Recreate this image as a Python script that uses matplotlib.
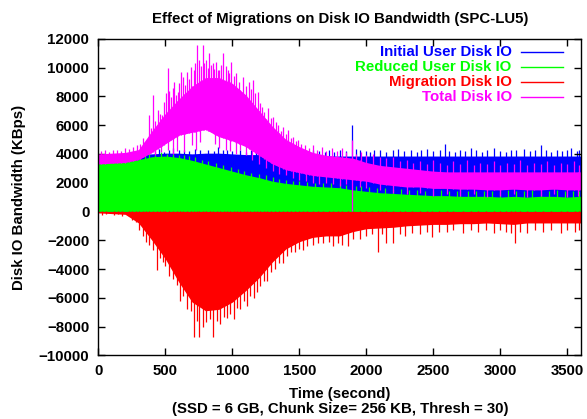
import numpy as np
import matplotlib
matplotlib.use("Agg")
import matplotlib.pyplot as plt

plt.rcParams['font.family'] = ['Liberation Sans', 'DejaVu Sans']
plt.rcParams['font.weight'] = 'bold'

# time grid (seconds) for the dense bands
t = list(range(0, 3601, 100))

# ---- Initial User Disk IO (blue)
blue_hi = [3850, 3900, 3900, 3950, 4000, 4050, 4050, 4000, 4050, 4050, 4000, 3950, 3950,
           3900, 3900, 3850, 3850, 3850, 3850, 3850, 3850, 3850, 3850, 3850, 3850, 3850,
           3850, 3850, 3850, 3850, 3850, 3850, 3850, 3850, 3850, 3850, 3850]
blue_spikes = [(420, 4200), (450, 4350), (490, 4150), (530, 4300), (560, 4400), (600, 4250),
               (640, 4300), (680, 4200), (720, 4350), (760, 4250), (820, 4300), (860, 4200),
               (890, 4500), (930, 4250), (960, 4300), (1000, 4200), (1060, 4250), (1100, 4150),
               (1140, 4300), (1180, 4250), (1230, 4150), (1280, 4200), (1330, 4100), (1380, 4250),
               (1420, 4150), (1460, 4350), (1500, 4200), (1550, 4150), (1600, 4300), (1650, 4200),
               (1690, 4100), (1720, 4250), (1760, 4150), (1800, 4300), (1850, 4200), (1890, 6000),
               (1920, 4350), (1950, 4300), (2000, 4200), (2030, 4100), (2060, 4300), (2100, 4250),
               (2150, 4150), (2200, 4250), (2240, 4350), (2280, 4200), (2330, 4300), (2380, 4150),
               (2410, 4250), (2450, 4350), (2500, 4200), (2550, 4300), (2590, 4700), (2620, 4200),
               (2660, 4150), (2700, 4300), (2740, 4200), (2780, 4400), (2820, 4250), (2860, 4150),
               (2900, 4300), (2950, 4400), (3000, 4200), (3040, 4150), (3080, 4300), (3120, 4250),
               (3180, 4350), (3220, 4200), (3260, 4300), (3300, 4600), (3340, 4250), (3380, 4150),
               (3420, 4300), (3460, 4200), (3500, 4250), (3530, 4400), (3570, 4200), (3590, 4250)]

# ---- Reduced User Disk IO (green)
green_hi = [3400, 3450, 3450, 3600, 3800, 3850, 3750, 3550, 3300, 3050, 2800, 2550, 2350,
            2100, 1950, 1850, 1750, 1700, 1650, 1500, 1400, 1300, 1250, 1200, 1150, 1100,
            1100, 1050, 1050, 1050, 1000, 1050, 1000, 1050, 1050, 1000, 1050]
green_spikes = [(20, 3600), (60, 3700), (100, 3550), (140, 3650), (180, 3600), (230, 3650),
                (270, 3750), (310, 3800), (350, 3900), (380, 4100), (420, 3950), (470, 4150),
                (510, 4000), (560, 4000), (600, 3950), (640, 3900), (680, 3850), (720, 3750),
                (770, 3600), (820, 3500), (880, 3350), (930, 3250), (990, 3100), (1040, 2950),
                (1090, 2800), (1140, 2700), (1200, 2600), (1250, 2550), (1300, 2400), (1350, 2250),
                (1400, 2200), (1450, 2150), (1500, 2100), (1560, 2050), (1620, 2000), (1680, 2000),
                (1740, 1950), (1800, 1950), (1850, 1850), (1920, 1800), (1960, 1800), (2020, 1700),
                (2080, 1650), (2140, 1600), (2200, 1550), (2260, 1550), (2320, 1500), (2380, 1500),
                (2440, 1450), (2500, 1450), (2560, 1500), (2620, 1400), (2680, 1450), (2700, 1600),
                (2760, 1400), (2820, 1450), (2880, 1400), (2940, 1450), (3000, 1400), (3060, 1500),
                (3120, 1400), (3180, 1450), (3240, 1500), (3300, 1450), (3360, 1400), (3420, 1500),
                (3480, 1450), (3540, 1400), (3590, 1450)]

# ---- Migration Disk IO (red, negative)
red_lo = [-100, -150, -200, -800, -2000, -3300, -4900, -6300, -6900, -6800, -6300, -5500,
          -4600, -3500, -2600, -2100, -1800, -1700, -1700, -1400, -1200, -1150, -1100, -1000,
          -950, -900, -900, -850, -850, -800, -850, -900, -800, -800, -800, -800, -800]
red_spikes = [(30, -250), (60, -200), (120, -250), (150, -200), (180, -300), (230, -350),
              (255, -600), (280, -700), (305, -1300), (330, -1700), (355, -2100), (380, -2300),
              (405, -2700), (435, -4100), (460, -3200), (480, -3500), (500, -3800), (530, -4500),
              (560, -4700), (585, -5100), (610, -6200), (635, -5900), (660, -6800), (690, -6900),
              (713, -8700), (735, -7600), (755, -8700), (780, -8000), (800, -7700), (830, -7500),
              (857, -8700), (885, -7600), (910, -7800), (935, -7300), (960, -7400), (985, -7100),
              (1010, -7500), (1035, -6700), (1060, -6800), (1085, -6200), (1110, -6600),
              (1135, -5900), (1160, -6000), (1185, -5600), (1210, -5200), (1235, -4800),
              (1260, -4800), (1290, -4200), (1320, -4000), (1350, -3600), (1380, -3600),
              (1410, -3100), (1440, -2800), (1470, -2800), (1500, -2600), (1530, -2700),
              (1560, -2400), (1600, -2300), (1640, -2200), (1680, -2200), (1720, -2100),
              (1750, -2400), (1790, -2200), (1820, -2300), (1860, -2400), (1900, -1900),
              (1950, -1900), (2000, -1700), (2040, -1600), (2085, -2800), (2120, -1600),
              (2150, -2200), (2200, -2200), (2250, -1600), (2290, -1700), (2340, -1500),
              (2400, -1600), (2450, -1400), (2490, -1800), (2540, -1400), (2600, -1400),
              (2650, -1300), (2720, -1500), (2780, -1300), (2830, -1400), (2890, -1300),
              (2950, -1500), (3000, -1300), (3040, -1400), (3080, -1500), (3110, -2200),
              (3150, -1400), (3200, -1500), (3260, -1300), (3320, -1400), (3380, -1300),
              (3450, -1500), (3500, -1300), (3560, -1400), (3590, -1300)]

# ---- Total Disk IO (magenta)
mag_lo = [3300, 3350, 3400, 3600, 4100, 4700, 5300, 5500, 5700, 5200, 4900, 4500, 3900,
          3300, 2900, 2700, 2500, 2400, 2300, 2200, 2100, 1900, 1800, 1700, 1700, 1600,
          1600, 1550, 1550, 1500, 1500, 1550, 1500, 1500, 1550, 1500, 1500]
mag_hi = [4000, 4050, 4100, 4300, 5600, 6800, 7800, 8700, 9300, 9300, 8900, 8100, 7000,
          5900, 5000, 4500, 4100, 3900, 3800, 3700, 3400, 3200, 3100, 3000, 2900, 2800,
          2750, 2750, 2750, 2750, 2750, 2750, 2750, 2750, 2750, 2750, 2750]
mag_spikes_up = [(20, 4200), (50, 4300), (80, 4150), (110, 4250), (140, 4300), (170, 4200),
                 (200, 4400), (230, 4350), (260, 4500), (290, 4600), (310, 4700), (331, 5080),
                 (350, 4800), (381, 6700), (395, 5800), (406, 8090), (425, 6300), (443, 7050),
                 (460, 6800), (475, 6700), (490, 7600), (505, 8200), (518, 9940), (530, 8400),
                 (543, 7970), (555, 8600), (568, 9010), (580, 8100), (593, 8320), (605, 8900),
                 (618, 9710), (635, 9370), (648, 8800), (660, 9710), (675, 9200), (693, 10060),
                 (713, 9830), (725, 10300), (737, 11560), (754, 10520), (766, 10100), (779, 11560),
                 (790, 10300), (804, 10520), (816, 10000), (829, 10980), (841, 10200), (854, 10290),
                 (866, 9900), (879, 10400), (892, 9800), (904, 9830), (919, 10200), (934, 11030),
                 (950, 10100), (966, 9830), (978, 9600), (991, 10400), (1010, 9400), (1029, 9600),
                 (1050, 9000), (1078, 9370), (1100, 8700), (1128, 9010), (1140, 8500), (1153, 9130),
                 (1170, 8200), (1190, 8300), (1205, 7500), (1219, 7280), (1240, 6900), (1269, 7160),
                 (1290, 6500), (1306, 6580), (1325, 6200), (1343, 6000), (1360, 5600), (1380, 5900),
                 (1400, 5400), (1418, 5660), (1435, 5100), (1455, 5200), (1475, 4900), (1492, 4970),
                 (1515, 4700), (1542, 4630), (1570, 4400), (1604, 4630), (1635, 4300), (1666, 4510),
                 (1700, 4200), (1741, 4400), (1780, 4200), (1815, 4400), (1850, 4100), (1890, 4970),
                 (1920, 4000), (1960, 4100), (2000, 3900), (2050, 4000), (2100, 3800), (2150, 3700),
                 (2200, 3800), (2250, 3500), (2300, 3600), (2350, 3400), (2400, 3500), (2450, 3300),
                 (2500, 3600), (2550, 3400), (2600, 3200), (2650, 3500), (2700, 3300), (2750, 3600),
                 (2800, 3200), (2850, 3400), (2900, 3300), (2950, 3500), (3000, 3200), (3050, 3400),
                 (3100, 3300), (3150, 3600), (3200, 3200), (3250, 3400), (3300, 3300), (3350, 3500),
                 (3400, 3200), (3450, 3400), (3500, 3300), (3550, 3500), (3590, 3200)]
mag_spikes_down = [(420, 3900), (470, 4100), (520, 4300), (560, 4000), (590, 4200), (640, 4100),
                   (700, 4600), (730, 4300), (760, 4800), (870, 4700), (900, 4400), (950, 4300),
                   (980, 4200), (1030, 4000), (1060, 4300), (1100, 3900), (1150, 3600),
                   (1200, 3300), (1250, 3000), (1300, 2800), (1350, 2600), (1400, 2500),
                   (1450, 2300), (1500, 2200), (1550, 2100), (1600, 2000), (1650, 1900),
                   (1700, 2000), (1750, 1900), (1800, 1800), (1850, 1900), (1890, 0), (1950, 1700),
                   (2000, 1600), (2100, 1500), (2200, 1300), (2300, 1200), (2400, 1300),
                   (2500, 1100), (2600, 1200), (2700, 1100), (2800, 1200), (2900, 1000),
                   (3000, 1100), (3100, 1200), (3200, 1000), (3300, 1100), (3400, 1200),
                   (3500, 1000), (3580, 1100)]

labels = ['Initial User Disk IO', 'Reduced User Disk IO', 'Migration Disk IO', 'Total Disk IO']
colors = ['#0000ff', '#00ff00', '#ff0000', '#ff00ff']
FS = 10.8

fig = plt.figure(figsize=(5.87, 4.19), dpi=100)
ax = fig.add_axes([0.1675, 0.1518, 0.8218, 0.7558])
lw = 0.9

# blue
bt, bv = zip(*blue_spikes)
ax.fill_between(t, 0, blue_hi, color=colors[0], lw=0, zorder=1)
ax.vlines(bt, 0, bv, color=colors[0], lw=lw, zorder=1)
# green
gt, gv = zip(*green_spikes)
ax.fill_between(t, 0, green_hi, color=colors[1], lw=0, zorder=2)
ax.vlines(gt, 0, gv, color=colors[1], lw=lw, zorder=2)
# red
rt, rv = zip(*red_spikes)
ax.fill_between(t, red_lo, 0, color=colors[2], lw=0, zorder=3)
ax.vlines(rt, rv, 0, color=colors[2], lw=lw, zorder=3)
# magenta
mt, mv = zip(*mag_spikes_up)
dt, dv = zip(*mag_spikes_down)
ax.fill_between(t, mag_lo, mag_hi, color=colors[3], lw=0, zorder=4)
ax.vlines(mt, np.interp(mt, t, mag_lo), mv, color=colors[3], lw=lw, zorder=4)
ax.vlines(dt, dv, np.interp(dt, t, mag_hi), color=colors[3], lw=lw, zorder=4)

# gnuplot-style key
key_y = [0.958, 0.911, 0.864, 0.817]
for lab, c, yy in zip(labels, colors, key_y):
    ax.text(0.857, yy, lab, color=c, transform=ax.transAxes, ha='right', va='center',
            fontsize=FS, fontweight='bold', zorder=6)
    ax.plot([0.877, 0.964], [yy, yy], color=c, lw=1, transform=ax.transAxes, zorder=6)

ax.set_xlim(0, 3600)
ax.set_ylim(-10000, 12000)
ax.set_xticks(range(0, 3501, 500))
ax.set_yticks(range(-10000, 12001, 2000))
ax.tick_params(direction='in', length=5, width=1, top=True, right=True, labelsize=FS, pad=6.5)
for lbl in ax.get_xticklabels() + ax.get_yticklabels():
    lbl.set_fontweight('bold')
for s in ax.spines.values():
    s.set_linewidth(1)
    s.set_zorder(7)

fig.text(0.579, 0.955, 'Effect of Migrations on Disk IO Bandwidth (SPC-LU5)', fontsize=FS,
         fontweight='bold', ha='center', va='center')
fig.text(0.0332, 0.5286, 'Disk IO Bandwidth (KBps)', fontsize=FS, fontweight='bold',
         ha='center', va='center', rotation=90)
fig.text(0.579, 0.0597, 'Time (second)', fontsize=FS, fontweight='bold', ha='center', va='center')
fig.text(0.579, 0.0239, '(SSD = 6 GB, Chunk Size= 256 KB, Thresh = 30)', fontsize=FS,
         fontweight='bold', ha='center', va='center')

fig.savefig('out.png', dpi=100)
